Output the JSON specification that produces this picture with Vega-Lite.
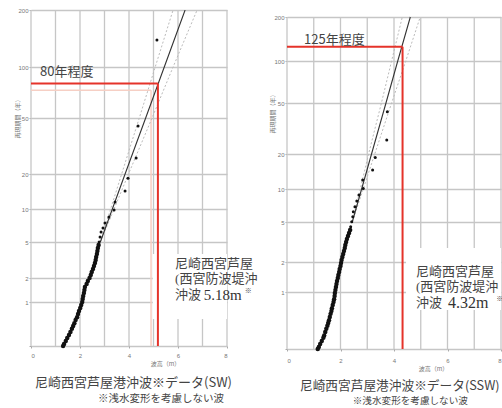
{
  "$schema": "https://vega.github.io/schema/vega-lite/v6.json",
  "padding": {"left": 14, "top": 7, "right": 0, "bottom": 0},
  "bounds": "flush",
  "spacing": 60,
  "config": {
    "view": {"stroke": null},
    "font": "Noto Sans CJK JP",
    "axis": {
      "labelFont": "Liberation Sans", "labelFontSize": 6, "labelColor": "#777",
      "titleFont": "Noto Sans CJK JP", "titleFontSize": 6, "titleFontWeight": "normal", "titleColor": "#777",
      "domain": false, "tickColor": "#aaa", "tickSize": 2,
      "gridColor": "#c6c6c6", "gridWidth": 1.3
    }
  },
  "datasets": {
    "xgrid": [{"x": 0}, {"x": 1}, {"x": 2}, {"x": 3}, {"x": 4}, {"x": 5}, {"x": 6}, {"x": 7}, {"x": 8}],
    "left_sparse": [
      {"x": 5.14, "T": 139}, {"x": 4.37, "T": 43.9}, {"x": 4.29, "T": 26.0}, {"x": 3.96, "T": 18.4},
      {"x": 3.84, "T": 14.3}, {"x": 3.43, "T": 11.5}, {"x": 3.39, "T": 9.8}, {"x": 3.18, "T": 8.46},
      {"x": 3.02, "T": 7.45}, {"x": 2.94, "T": 6.71}, {"x": 2.86, "T": 6.17}, {"x": 2.82, "T": 5.55},
      {"x": 2.78, "T": 5.0}
    ],
    "left_dense": [
      {"x": 2.76, "T": 4.63}, {"x": 2.73, "T": 4.29}, {"x": 2.71, "T": 3.98},
      {"x": 2.69, "T": 3.68}, {"x": 2.66, "T": 3.41}, {"x": 2.64, "T": 3.16}, {"x": 2.61, "T": 2.93},
      {"x": 2.57, "T": 2.71}, {"x": 2.53, "T": 2.51}, {"x": 2.48, "T": 2.33}, {"x": 2.44, "T": 2.16},
      {"x": 2.39, "T": 2.0}, {"x": 2.32, "T": 1.83}, {"x": 2.27, "T": 1.68}, {"x": 2.2, "T": 1.54},
      {"x": 2.18, "T": 1.41}, {"x": 2.16, "T": 1.3}, {"x": 2.13, "T": 1.19}, {"x": 2.11, "T": 1.09},
      {"x": 2.09, "T": 1.0}, {"x": 2.05, "T": 0.92}, {"x": 2.01, "T": 0.85}, {"x": 1.96, "T": 0.78},
      {"x": 1.92, "T": 0.72}, {"x": 1.88, "T": 0.66}, {"x": 1.82, "T": 0.61}, {"x": 1.77, "T": 0.56},
      {"x": 1.72, "T": 0.52}, {"x": 1.67, "T": 0.48}, {"x": 1.61, "T": 0.44}, {"x": 1.55, "T": 0.405},
      {"x": 1.48, "T": 0.373}, {"x": 1.42, "T": 0.344}, {"x": 1.35, "T": 0.317}, {"x": 1.31, "T": 0.3}
    ],
    "right_sparse": [
      {"x": 3.75, "T": 42.8}, {"x": 3.73, "T": 25.7}, {"x": 3.3, "T": 18.7}, {"x": 3.2, "T": 14.6},
      {"x": 2.83, "T": 11.96}, {"x": 2.85, "T": 10.1}, {"x": 2.69, "T": 8.81}, {"x": 2.61, "T": 7.77},
      {"x": 2.54, "T": 6.89}, {"x": 2.48, "T": 6.21}, {"x": 2.46, "T": 5.59}, {"x": 2.42, "T": 5.03},
      {"x": 2.38, "T": 4.49}
    ],
    "right_dense": [
      {"x": 2.36, "T": 4.16}, {"x": 2.32, "T": 3.89}, {"x": 2.28, "T": 3.63},
      {"x": 2.24, "T": 3.39}, {"x": 2.21, "T": 3.16}, {"x": 2.18, "T": 2.95}, {"x": 2.16, "T": 2.76},
      {"x": 2.13, "T": 2.57}, {"x": 2.1, "T": 2.4}, {"x": 2.07, "T": 2.24}, {"x": 2.04, "T": 2.09},
      {"x": 2.02, "T": 1.95}, {"x": 2.0, "T": 1.82}, {"x": 1.97, "T": 1.7}, {"x": 1.95, "T": 1.59},
      {"x": 1.92, "T": 1.48}, {"x": 1.9, "T": 1.38}, {"x": 1.87, "T": 1.29}, {"x": 1.85, "T": 1.2},
      {"x": 1.83, "T": 1.12}, {"x": 1.81, "T": 1.05}, {"x": 1.79, "T": 0.98}, {"x": 1.78, "T": 0.92},
      {"x": 1.76, "T": 0.86}, {"x": 1.74, "T": 0.81}, {"x": 1.71, "T": 0.76}, {"x": 1.68, "T": 0.71},
      {"x": 1.66, "T": 0.67}, {"x": 1.63, "T": 0.63}, {"x": 1.6, "T": 0.59}, {"x": 1.57, "T": 0.55},
      {"x": 1.54, "T": 0.52}, {"x": 1.51, "T": 0.49}, {"x": 1.47, "T": 0.46}, {"x": 1.43, "T": 0.43},
      {"x": 1.39, "T": 0.4}, {"x": 1.36, "T": 0.38}, {"x": 1.3, "T": 0.355}, {"x": 1.24, "T": 0.334},
      {"x": 1.19, "T": 0.313}, {"x": 1.15, "T": 0.3}
    ],
    "left_fit": [
      {"x": 6.29, "T": 200}, {"x": 5.44, "T": 100}, {"x": 4.68, "T": 50},
      {"x": 3.84, "T": 20}, {"x": 3.32, "T": 10}, {"x": 2.83, "T": 5}
    ],
    "left_ci": [
      {"s": "upper", "x": 6.78, "T": 200}, {"s": "upper", "x": 5.8, "T": 100}, {"s": "upper", "x": 4.94, "T": 50},
      {"s": "upper", "x": 3.98, "T": 20}, {"s": "upper", "x": 3.39, "T": 10}, {"s": "upper", "x": 2.83, "T": 5},
      {"s": "lower", "x": 5.8, "T": 200}, {"s": "lower", "x": 5.07, "T": 100}, {"s": "lower", "x": 4.42, "T": 50},
      {"s": "lower", "x": 3.7, "T": 20}, {"s": "lower", "x": 3.25, "T": 10}, {"s": "lower", "x": 2.83, "T": 5}
    ],
    "right_fit": [
      {"x": 4.61, "T": 200}, {"x": 4.14, "T": 100}, {"x": 3.7, "T": 50},
      {"x": 3.16, "T": 20}, {"x": 2.79, "T": 10}, {"x": 2.44, "T": 5}
    ],
    "right_ci": [
      {"s": "upper", "x": 4.98, "T": 200}, {"s": "upper", "x": 4.44, "T": 100}, {"s": "upper", "x": 3.91, "T": 50},
      {"s": "upper", "x": 3.28, "T": 20}, {"s": "upper", "x": 2.85, "T": 10}, {"s": "upper", "x": 2.44, "T": 5},
      {"s": "lower", "x": 4.31, "T": 200}, {"s": "lower", "x": 3.91, "T": 100}, {"s": "lower", "x": 3.53, "T": 50},
      {"s": "lower", "x": 3.05, "T": 20}, {"s": "lower", "x": 2.74, "T": 10}, {"s": "lower", "x": 2.44, "T": 5}
    ]
  },
  "hconcat": [
    {
      "width": 196,
      "height": 336,
      "title": {
        "text": "尼崎西宮芦屋港沖波※データ(SW)",
        "subtitle": "\u200b　　　　　　※浅水変形を考慮しない波",
        "orient": "bottom", "anchor": "start", "frame": "group", "dx": 4, "offset": 11,
        "font": "Noto Sans CJK JP", "fontSize": 13, "fontWeight": "normal", "color": "#444",
        "subtitleFont": "Noto Sans CJK JP", "subtitleFontSize": 10.5, "subtitleColor": "#444", "subtitlePadding": 4
      },
      "layer": [
        {
          "data": {"name": "xgrid"},
          "mark": {"type": "rule", "color": "#c6c6c6", "strokeWidth": 1.3},
          "encoding": {
            "x": {
              "field": "x", "type": "quantitative",
              "scale": {"domain": [0, 8], "nice": false, "zero": false},
              "axis": {"values": [0, 2, 4, 6, 8], "grid": false, "title": "波高（m）", "titleX": 134, "labelPadding": 4, "titlePadding": 2}
            },
            "y": {
              "datum": 200, "type": "quantitative",
              "scale": {"type": "log", "domain": [0.3, 1, 2, 5, 10, 20, 50, 100, 200], "range": [336, 292, 268, 232, 199, 164, 108, 57, 0], "nice": false, "zero": false},
              "axis": {"values": [0.3, 1, 2, 5, 10, 20, 50, 100, 200], "labelExpr": "datum.value < 0.5 ? '' : format(datum.value, 'd')", "grid": true, "title": "再現期間（年）", "titleX": -11, "titleY": 107, "labelPadding": 1}
            },
            "y2": {"datum": 0.3}
          }
        },
        {
          "data": {"values": [{}]},
          "mark": {"type": "rect", "color": "white"},
          "encoding": {"x": {"datum": 4.97}, "x2": {"datum": 8}, "y": {"datum": 3.68}, "y2": {"datum": 0.628}}
        },
        {
          "data": {"values": [{}]},
          "mark": {"type": "rule", "color": "#f6cfc4", "strokeWidth": 1.5},
          "encoding": {"x": {"datum": 0}, "x2": {"datum": 4.9}, "y": {"datum": 73}}
        },
        {
          "data": {"values": [{}]},
          "mark": {"type": "rule", "color": "#f6cfc4", "strokeWidth": 1.5},
          "encoding": {"x": {"datum": 4.9}, "y": {"datum": 73}, "y2": {"datum": 0.3}}
        },
        {
          "data": {"name": "left_ci"},
          "mark": {"type": "line", "color": "#bbbbbb", "strokeWidth": 1, "strokeDash": [2, 2], "clip": true},
          "encoding": {"x": {"field": "x", "type": "quantitative"}, "y": {"field": "T", "type": "quantitative"}, "detail": {"field": "s"}}
        },
        {
          "data": {"name": "left_fit"},
          "mark": {"type": "line", "color": "#333333", "strokeWidth": 1.1, "clip": true},
          "encoding": {"x": {"field": "x", "type": "quantitative"}, "y": {"field": "T", "type": "quantitative"}}
        },
        {
          "data": {"values": [{}]},
          "mark": {"type": "rule", "color": "#e5332a", "strokeWidth": 2},
          "encoding": {"x": {"datum": 0}, "x2": {"datum": 5.18}, "y": {"datum": 80}}
        },
        {
          "data": {"values": [{}]},
          "mark": {"type": "rule", "color": "#e5332a", "strokeWidth": 2},
          "encoding": {"x": {"datum": 5.18}, "y": {"datum": 80}, "y2": {"datum": 0.3}}
        },
        {
          "data": {"name": "left_sparse"},
          "mark": {"type": "circle", "color": "#111111", "opacity": 1, "size": 9},
          "encoding": {"x": {"field": "x", "type": "quantitative"}, "y": {"field": "T", "type": "quantitative"}}
        },
        {
          "data": {"name": "left_dense"},
          "mark": {"type": "circle", "color": "#111111", "opacity": 1, "size": 20},
          "encoding": {"x": {"field": "x", "type": "quantitative"}, "y": {"field": "T", "type": "quantitative"}}
        },
        {
          "data": {"values": [{}]},
          "mark": {"type": "text", "text": "80年程度", "align": "left", "baseline": "middle", "fontSize": 13, "font": "Noto Sans CJK JP", "color": "#444"},
          "encoding": {"x": {"datum": 0.37}, "y": {"datum": 93}}
        },
        {
          "data": {"values": [{}]},
          "mark": {"type": "text", "text": ["尼崎西宮芦屋港", "(西宮防波堤沖)"], "align": "left", "baseline": "middle", "fontSize": 13, "lineHeight": 15, "font": "Liberation Serif, Noto Sans CJK JP", "color": "#444", "limit": 83, "ellipsis": "\u200b"},
          "encoding": {"x": {"datum": 5.88}, "y": {"datum": 2.86}}
        },
        {
          "data": {"values": [{}]},
          "mark": {"type": "text", "text": "沖波", "align": "left", "baseline": "middle", "fontSize": 13, "font": "Noto Sans CJK JP", "color": "#444"},
          "encoding": {"x": {"datum": 5.88}, "y": {"datum": 1.225}}
        },
        {
          "data": {"values": [{}]},
          "mark": {"type": "text", "text": "5.18m", "align": "left", "baseline": "middle", "fontSize": 15, "font": "Liberation Serif", "color": "#333"},
          "encoding": {"x": {"datum": 7.05}, "y": {"datum": 1.225}}
        },
        {
          "data": {"values": [{}]},
          "mark": {"type": "text", "text": "※", "align": "left", "baseline": "middle", "fontSize": 7, "dy": -4, "font": "Noto Sans CJK JP", "color": "#444"},
          "encoding": {"x": {"datum": 8.72}, "y": {"datum": 1.225}}
        }
      ]
    },
    {
      "width": 214,
      "height": 339,
      "title": {
        "text": "尼崎西宮芦屋港沖波※データ(SSW)",
        "subtitle": "\u200b　　　　　\u2002※浅水変形を考慮しない波",
        "orient": "bottom", "anchor": "start", "frame": "group", "dx": 13, "offset": 9,
        "font": "Noto Sans CJK JP", "fontSize": 12.7, "fontWeight": "normal", "color": "#444",
        "subtitleFont": "Noto Sans CJK JP", "subtitleFontSize": 9.6, "subtitleColor": "#444", "subtitlePadding": 3
      },
      "layer": [
        {
          "data": {"name": "xgrid"},
          "mark": {"type": "rule", "color": "#c6c6c6", "strokeWidth": 1.3},
          "encoding": {
            "x": {
              "field": "x", "type": "quantitative",
              "scale": {"domain": [0, 8], "nice": false, "zero": false},
              "axis": {"values": [0, 2, 4, 6, 8], "grid": false, "title": "波高（m）", "titleX": 146, "labelPadding": 6, "titlePadding": 2, "labelFlush": true}
            },
            "y": {
              "datum": 200, "type": "quantitative",
              "scale": {"type": "log", "domain": [0.3, 1, 2, 5, 10, 20, 50, 100, 200], "range": [339, 282, 252, 212, 179, 144, 93, 51, 7], "nice": false, "zero": false},
              "axis": {"values": [0.3, 1, 2, 5, 10, 20, 50, 100, 200], "labelExpr": "datum.value < 0.5 ? '' : format(datum.value, 'd')", "grid": true, "title": "再現期間（年）", "titleX": -12, "titleY": 102, "labelPadding": 1}
            },
            "y2": {"datum": 0.3}
          }
        },
        {
          "data": {"values": [{}]},
          "mark": {"type": "rect", "color": "white"},
          "encoding": {"x": {"datum": 4.45}, "x2": {"datum": 8}, "y": {"datum": 2.76}, "y2": {"datum": 0.684}}
        },
        {
          "data": {"name": "right_ci"},
          "mark": {"type": "line", "color": "#bbbbbb", "strokeWidth": 1, "strokeDash": [2, 2], "clip": true},
          "encoding": {"x": {"field": "x", "type": "quantitative"}, "y": {"field": "T", "type": "quantitative"}, "detail": {"field": "s"}}
        },
        {
          "data": {"name": "right_fit"},
          "mark": {"type": "line", "color": "#333333", "strokeWidth": 1.1, "clip": true},
          "encoding": {"x": {"field": "x", "type": "quantitative"}, "y": {"field": "T", "type": "quantitative"}}
        },
        {
          "data": {"values": [{}]},
          "mark": {"type": "rule", "color": "#e5332a", "strokeWidth": 2},
          "encoding": {"x": {"datum": 0}, "x2": {"datum": 4.32}, "y": {"datum": 125}}
        },
        {
          "data": {"values": [{}]},
          "mark": {"type": "rule", "color": "#e5332a", "strokeWidth": 2},
          "encoding": {"x": {"datum": 4.32}, "y": {"datum": 125}, "y2": {"datum": 0.3}}
        },
        {
          "data": {"name": "right_sparse"},
          "mark": {"type": "circle", "color": "#111111", "opacity": 1, "size": 9},
          "encoding": {"x": {"field": "x", "type": "quantitative"}, "y": {"field": "T", "type": "quantitative"}}
        },
        {
          "data": {"name": "right_dense"},
          "mark": {"type": "circle", "color": "#111111", "opacity": 1, "size": 20},
          "encoding": {"x": {"field": "x", "type": "quantitative"}, "y": {"field": "T", "type": "quantitative"}}
        },
        {
          "data": {"values": [{}]},
          "mark": {"type": "text", "text": "125年程度", "align": "left", "baseline": "middle", "fontSize": 13, "font": "Noto Sans CJK JP", "color": "#444"},
          "encoding": {"x": {"datum": 0.64}, "y": {"datum": 139.6}}
        },
        {
          "data": {"values": [{}]},
          "mark": {"type": "text", "text": ["尼崎西宮芦屋港", "(西宮防波堤沖)"], "align": "left", "baseline": "middle", "fontSize": 13, "lineHeight": 15, "font": "Liberation Serif, Noto Sans CJK JP", "color": "#444", "limit": 86, "ellipsis": "\u200b"},
          "encoding": {"x": {"datum": 4.82}, "y": {"datum": 1.59}}
        },
        {
          "data": {"values": [{}]},
          "mark": {"type": "text", "text": "沖波", "align": "left", "baseline": "middle", "fontSize": 13, "font": "Noto Sans CJK JP", "color": "#444"},
          "encoding": {"x": {"datum": 4.82}, "y": {"datum": 0.79}}
        },
        {
          "data": {"values": [{}]},
          "mark": {"type": "text", "text": "4.32m", "align": "left", "baseline": "middle", "fontSize": 16, "font": "Liberation Serif", "color": "#333"},
          "encoding": {"x": {"datum": 6.02}, "y": {"datum": 0.79}}
        },
        {
          "data": {"values": [{}]},
          "mark": {"type": "text", "text": "※", "align": "left", "baseline": "middle", "fontSize": 7, "dy": -4, "font": "Noto Sans CJK JP", "color": "#444"},
          "encoding": {"x": {"datum": 7.82}, "y": {"datum": 0.79}}
        }
      ]
    }
  ]
}
